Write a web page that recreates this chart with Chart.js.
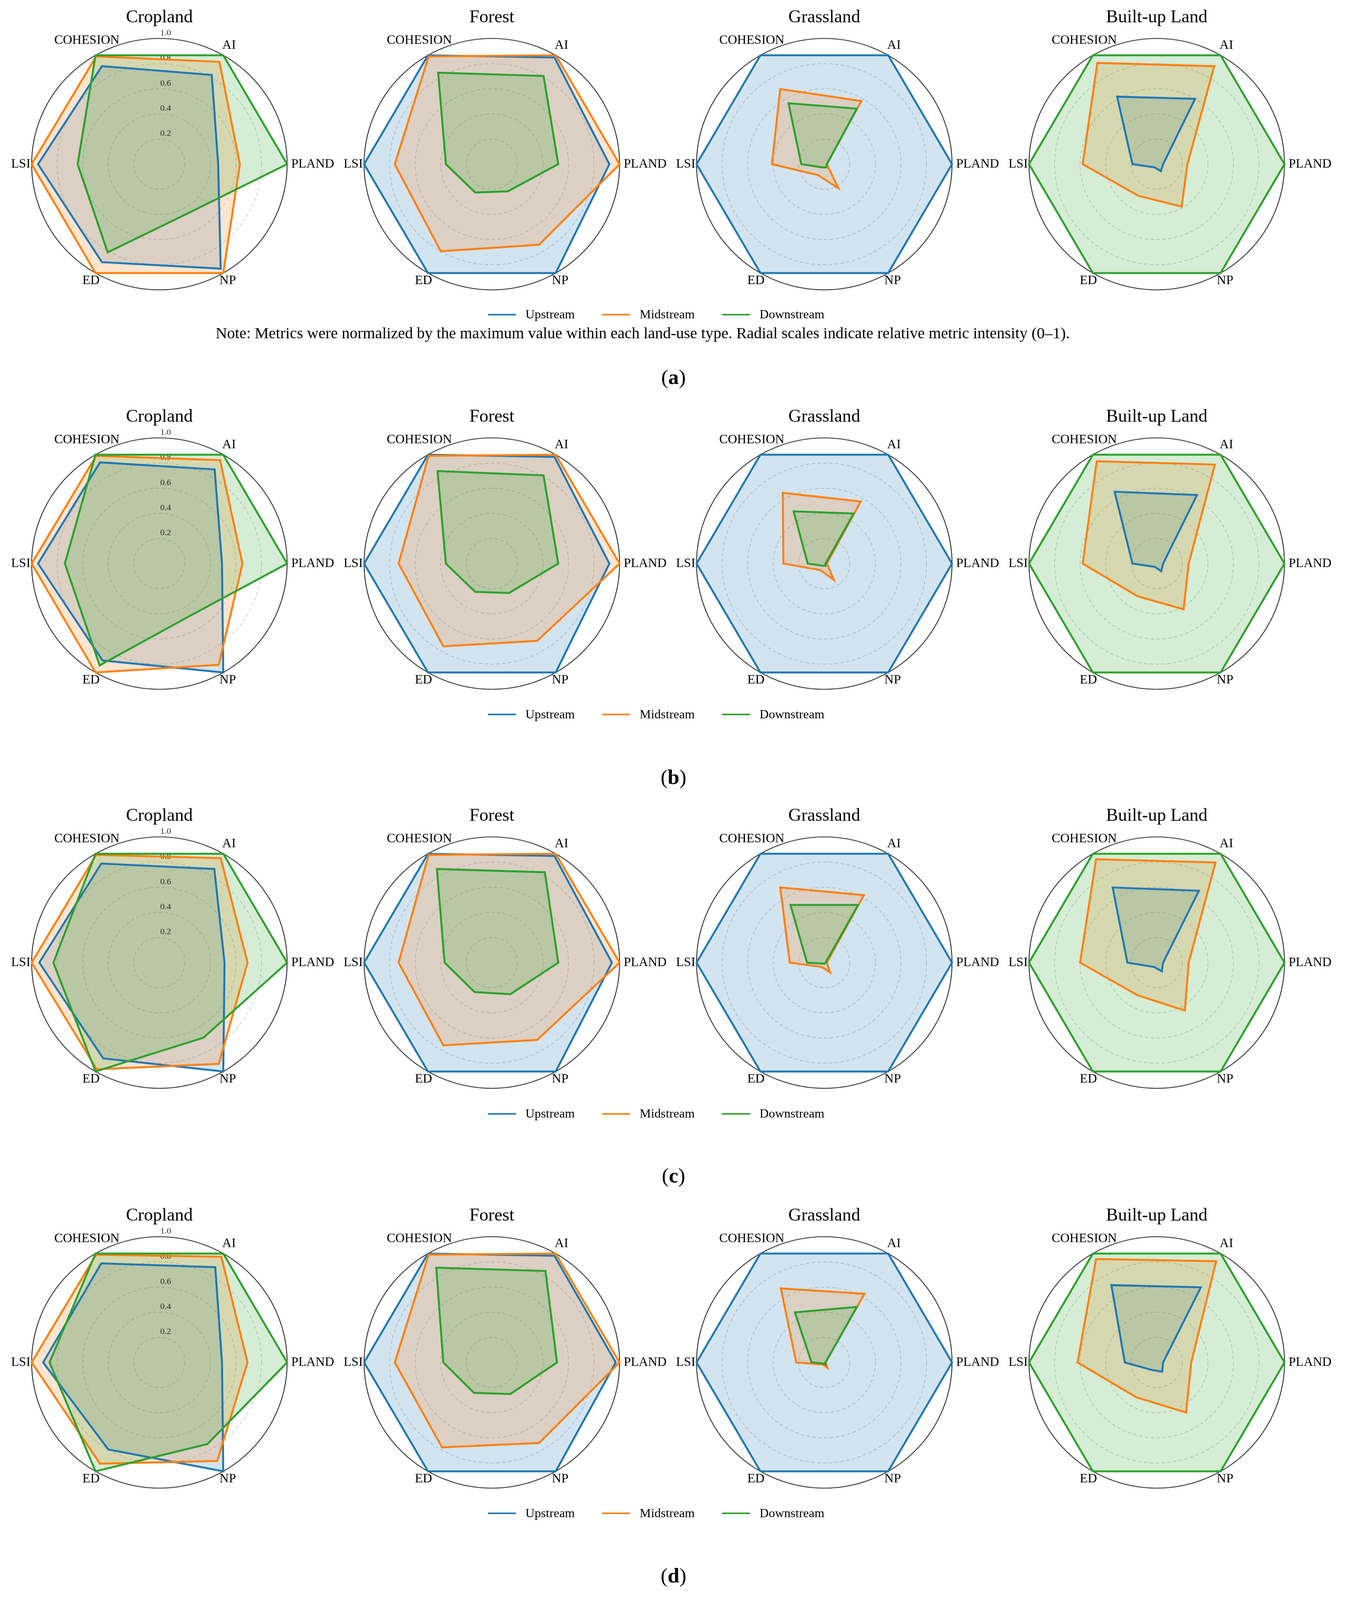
<!DOCTYPE html>
<html lang="en">
<head>
    <meta charset="UTF-8">
    <title>Landscape metrics radar charts</title>
    <script src="https://cdn.jsdelivr.net/npm/chart.js"></script>
    <style>
        html, body {
            margin: 0;
            width: 100%;
            height: 100%;
            overflow: hidden;
            background: #fff;
        }
        #page {
            position: relative;
            width: 3448px;
            height: 4162px;
            overflow: hidden;
            transform-origin: 0 0;
            font-family: 'Liberation Serif', 'Times New Roman', serif;
            color: #000;
        }
        #page canvas {
            position: absolute;
        }
        .legend {
            position: absolute;
            display: flex;
            align-items: center;
            gap: 70px;
            font-size: 32.5px;
            white-space: nowrap;
            transform: translateY(-50%);
        }
        .legend .item {
            display: flex;
            align-items: center;
        }
        .legend .swatch {
            width: 72px;
            height: 0;
            border-top: 4.5px solid;
            margin-right: 24px;
        }
        .note {
            position: absolute;
            font-size: 40.5px;
            white-space: nowrap;
            transform: translateY(-50%);
        }
        .panel {
            position: absolute;
            font-size: 54px;
            transform: translate(-50%, -50%);
        }
    </style>
</head>
<body>
    <div id="page"></div>
    <script>
        const metrics = ['AI', 'PLAND', 'NP', 'ED', 'LSI', 'COHESION'];
        const regions = ['Upstream', 'Midstream', 'Downstream'];
        const landTypes = ['Cropland', 'Forest', 'Grassland', 'Built-up Land'];
        const panels = ['a', 'b', 'c', 'd'];
        const tickValues = [0.2, 0.4, 0.6, 0.8, 1.0];
        const tickLabels = ['0.2', '0.4', '0.6', '0.8', '1.0'];
        const noteText = 'Note: Metrics were normalized by the maximum value within each land-use type. Radial scales indicate relative metric intensity (0\u20131).';

        // each list: [Upstream, Midstream, Downstream], values in metrics order
        const croplandA = [
            [0.82, 0.46, 0.96, 0.90, 0.95, 0.90],
            [0.94, 0.63, 1.00, 1.00, 1.00, 0.99],
            [1.00, 1.00, 0.45, 0.81, 0.64, 1.00]
        ];
        const forestA = [
            [0.98, 0.92, 1.00, 1.00, 1.00, 1.00],
            [1.00, 1.00, 0.74, 0.80, 0.76, 0.99],
            [0.81, 0.52, 0.25, 0.26, 0.36, 0.84]
        ];
        const grasslandA = [
            [1.00, 1.00, 1.00, 1.00, 1.00, 1.00],
            [0.58, 0.02, 0.22, 0.10, 0.41, 0.69],
            [0.51, 0.02, 0.03, 0.03, 0.18, 0.56]
        ];
        const builtupA = [
            [0.60, 0.05, 0.065, 0.03, 0.19, 0.62],
            [0.90, 0.24, 0.39, 0.29, 0.58, 0.93],
            [1.00, 1.00, 1.00, 1.00, 1.00, 1.00]
        ];

        const croplandB = [
            [0.865, 0.49, 1.00, 0.89, 0.95, 0.93],
            [0.95, 0.65, 0.93, 1.00, 1.00, 0.99],
            [1.00, 1.00, 0.48, 0.935, 0.74, 1.00]
        ];
        const forestB = [
            [0.98, 0.92, 1.00, 1.00, 1.00, 1.00],
            [1.00, 1.00, 0.71, 0.76, 0.73, 0.99],
            [0.81, 0.52, 0.27, 0.26, 0.36, 0.85]
        ];
        const grasslandB = [
            [1.00, 1.00, 1.00, 1.00, 1.00, 1.00],
            [0.57, 0.02, 0.15, 0.06, 0.32, 0.65],
            [0.46, 0.01, 0.02, 0.02, 0.13, 0.48]
        ];
        const builtupB = [
            [0.63, 0.05, 0.07, 0.03, 0.19, 0.66],
            [0.91, 0.25, 0.42, 0.30, 0.58, 0.94],
            [1.00, 1.00, 1.00, 1.00, 1.00, 1.00]
        ];

        const croplandC = [
            [0.86, 0.51, 1.00, 0.88, 0.94, 0.91],
            [0.96, 0.69, 0.93, 0.98, 1.00, 0.99],
            [1.00, 1.00, 0.69, 1.00, 0.83, 1.00]
        ];
        const forestC = [
            [0.98, 0.94, 1.00, 1.00, 1.00, 1.00],
            [1.00, 1.00, 0.71, 0.76, 0.73, 0.99],
            [0.83, 0.52, 0.29, 0.27, 0.37, 0.86]
        ];
        const grasslandC = [
            [1.00, 1.00, 1.00, 1.00, 1.00, 1.00],
            [0.62, 0.02, 0.09, 0.04, 0.27, 0.69],
            [0.53, 0.01, 0.01, 0.01, 0.135, 0.53]
        ];
        const builtupC = [
            [0.66, 0.05, 0.08, 0.04, 0.23, 0.69],
            [0.92, 0.25, 0.44, 0.30, 0.60, 0.95],
            [1.00, 1.00, 1.00, 1.00, 1.00, 1.00]
        ];

        const croplandD = [
            [0.875, 0.49, 1.00, 0.80, 0.91, 0.91],
            [0.97, 0.69, 0.905, 0.93, 1.00, 0.99],
            [1.00, 1.00, 0.75, 1.00, 0.86, 1.00]
        ];
        const forestD = [
            [0.98, 0.97, 1.00, 1.00, 1.00, 1.00],
            [1.00, 1.00, 0.74, 0.78, 0.76, 0.99],
            [0.84, 0.51, 0.29, 0.28, 0.38, 0.87]
        ];
        const grasslandD = [
            [1.00, 1.00, 1.00, 1.00, 1.00, 1.00],
            [0.63, 0.01, 0.05, 0.02, 0.22, 0.68],
            [0.51, 0.01, 0.02, 0.01, 0.10, 0.46]
        ];
        const builtupD = [
            [0.69, 0.05, 0.085, 0.07, 0.25, 0.71],
            [0.93, 0.27, 0.46, 0.32, 0.62, 0.95],
            [1.00, 1.00, 1.00, 1.00, 1.00, 1.00]
        ];

        const panelData = [
            [croplandA, forestA, grasslandA, builtupA],
            [croplandB, forestB, grasslandB, builtupB],
            [croplandC, forestC, grasslandC, builtupC],
            [croplandD, forestD, grasslandD, builtupD]
        ];

        // layout (page pixels)
        const pageW = 3448, pageH = 4162;
        const centersX = [408, 1259, 2110, 2961];
        const centersY = [427, 1466, 2504, 3544];
        const legendY = [818, 1858, 2897, 3936];
        const panelY = [981, 2021, 3058, 4098];
        const radius = 327;
        const canvasW = 920, canvasH = 860;
        const labelDist = [1.09, 1.2, 1.07, 1.07, 1.085, 1.135];

        const lineColors = ['#1f77b4', '#ff7f0e', '#2ca02c'];
        const fillColors = ['rgba(31, 119, 180, 0.2)', 'rgba(255, 127, 14, 0.2)', 'rgba(44, 160, 44, 0.2)'];
        const serif = '"Liberation Serif", "Times New Roman", serif';

        const radarDecor = {
            id: 'radarDecor',
            beforeDatasetsDraw(chart, args, opts) {
                const s = chart.scales.r;
                const ctx = chart.ctx;
                ctx.save();
                ctx.beginPath();
                ctx.arc(s.xCenter, s.yCenter, s.drawingArea, 0, Math.PI * 2);
                ctx.lineWidth = 2.2;
                ctx.strokeStyle = '#262626';
                ctx.stroke();
                if (opts.showTicks) {
                    ctx.fillStyle = '#262626';
                    ctx.font = '22px ' + serif;
                    ctx.textAlign = 'center';
                    ctx.textBaseline = 'middle';
                    tickValues.forEach((v, i) => {
                        const d = s.getDistanceFromCenterForValue(v);
                        ctx.fillText(tickLabels[i], s.xCenter + 16, s.yCenter - d - 14);
                    });
                }
                ctx.restore();
            },
            afterDraw(chart, args, opts) {
                const s = chart.scales.r;
                const ctx = chart.ctx;
                ctx.save();
                ctx.fillStyle = '#000';
                ctx.textAlign = 'center';
                ctx.textBaseline = 'alphabetic';
                ctx.font = '46px ' + serif;
                ctx.fillText(opts.title, s.xCenter, s.yCenter - 369);
                ctx.font = '33px ' + serif;
                ctx.textBaseline = 'middle';
                metrics.forEach((m, i) => {
                    const p = s.getPointPosition(i, s.drawingArea * labelDist[i]);
                    ctx.fillText(m, p.x, p.y);
                });
                ctx.restore();
            }
        };

        const page = document.getElementById('page');

        // keep the whole figure inside the visible window
        function fitPage() {
            const w = window.innerWidth, h = window.innerHeight;
            const sx = w > 0 ? w / pageW : 1;
            const sy = h > 0 ? h / pageH : 1;
            page.style.transform = 'scale(' + sx + ', ' + sy + ')';
        }
        fitPage();

        function makeRadar(row, col) {
            const canvas = document.createElement('canvas');
            canvas.width = canvasW;
            canvas.height = canvasH;
            canvas.style.width = canvasW + 'px';
            canvas.style.height = canvasH + 'px';
            canvas.style.left = (centersX[col] - canvasW / 2) + 'px';
            canvas.style.top = (centersY[row] - canvasH / 2) + 'px';
            page.appendChild(canvas);

            const padX = canvasW / 2 - radius;
            const padY = canvasH / 2 - radius;
            const values = panelData[row][col];

            new Chart(canvas, {
                type: 'radar',
                data: {
                    labels: metrics,
                    datasets: regions.map((name, k) => ({
                        label: name,
                        data: values[k],
                        borderColor: lineColors[k],
                        backgroundColor: fillColors[k],
                        borderWidth: 5,
                        fill: true,
                        pointRadius: 0,
                        pointHoverRadius: 0,
                        tension: 0,
                        clip: false,
                        order: 3 - k
                    }))
                },
                options: {
                    responsive: false,
                    animation: false,
                    devicePixelRatio: 1,
                    layout: {
                        padding: { left: padX, right: padX, top: padY, bottom: padY }
                    },
                    scales: {
                        r: {
                            min: 0,
                            max: 1,
                            startAngle: 30,
                            ticks: { display: false, stepSize: 0.2 },
                            grid: {
                                circular: true,
                                lineWidth: 1.8,
                                color: (c) => (c.tick && c.tick.value >= 0.999) ? 'rgba(0,0,0,0)' : '#cdcdcd'
                            },
                            border: { dash: [9, 6] },
                            angleLines: { display: false },
                            pointLabels: { display: false }
                        }
                    },
                    plugins: {
                        legend: { display: false },
                        tooltip: { enabled: false },
                        // all fills first, outlines on top
                        filler: { drawTime: 'beforeDatasetsDraw' },
                        radarDecor: { title: landTypes[col], showTicks: col === 0 }
                    }
                },
                plugins: [radarDecor]
            });
        }

        panels.forEach((p, row) => {
            landTypes.forEach((t, col) => makeRadar(row, col));

            const legend = document.createElement('div');
            legend.className = 'legend';
            legend.style.left = '1249px';
            legend.style.top = legendY[row] + 'px';
            regions.forEach((name, k) => {
                const item = document.createElement('div');
                item.className = 'item';
                const sw = document.createElement('span');
                sw.className = 'swatch';
                sw.style.borderTopColor = lineColors[k];
                const tx = document.createElement('span');
                tx.textContent = name;
                item.appendChild(sw);
                item.appendChild(tx);
                legend.appendChild(item);
            });
            page.appendChild(legend);

            if (row === 0) {
                const note = document.createElement('div');
                note.className = 'note';
                note.style.left = '552px';
                note.style.top = '866px';
                note.textContent = noteText;
                page.appendChild(note);
            }

            const lab = document.createElement('div');
            lab.className = 'panel';
            lab.style.left = '1724px';
            lab.style.top = panelY[row] + 'px';
            lab.innerHTML = '(<b>' + p + '</b>)';
            page.appendChild(lab);
        });
    </script>
</body>
</html>
